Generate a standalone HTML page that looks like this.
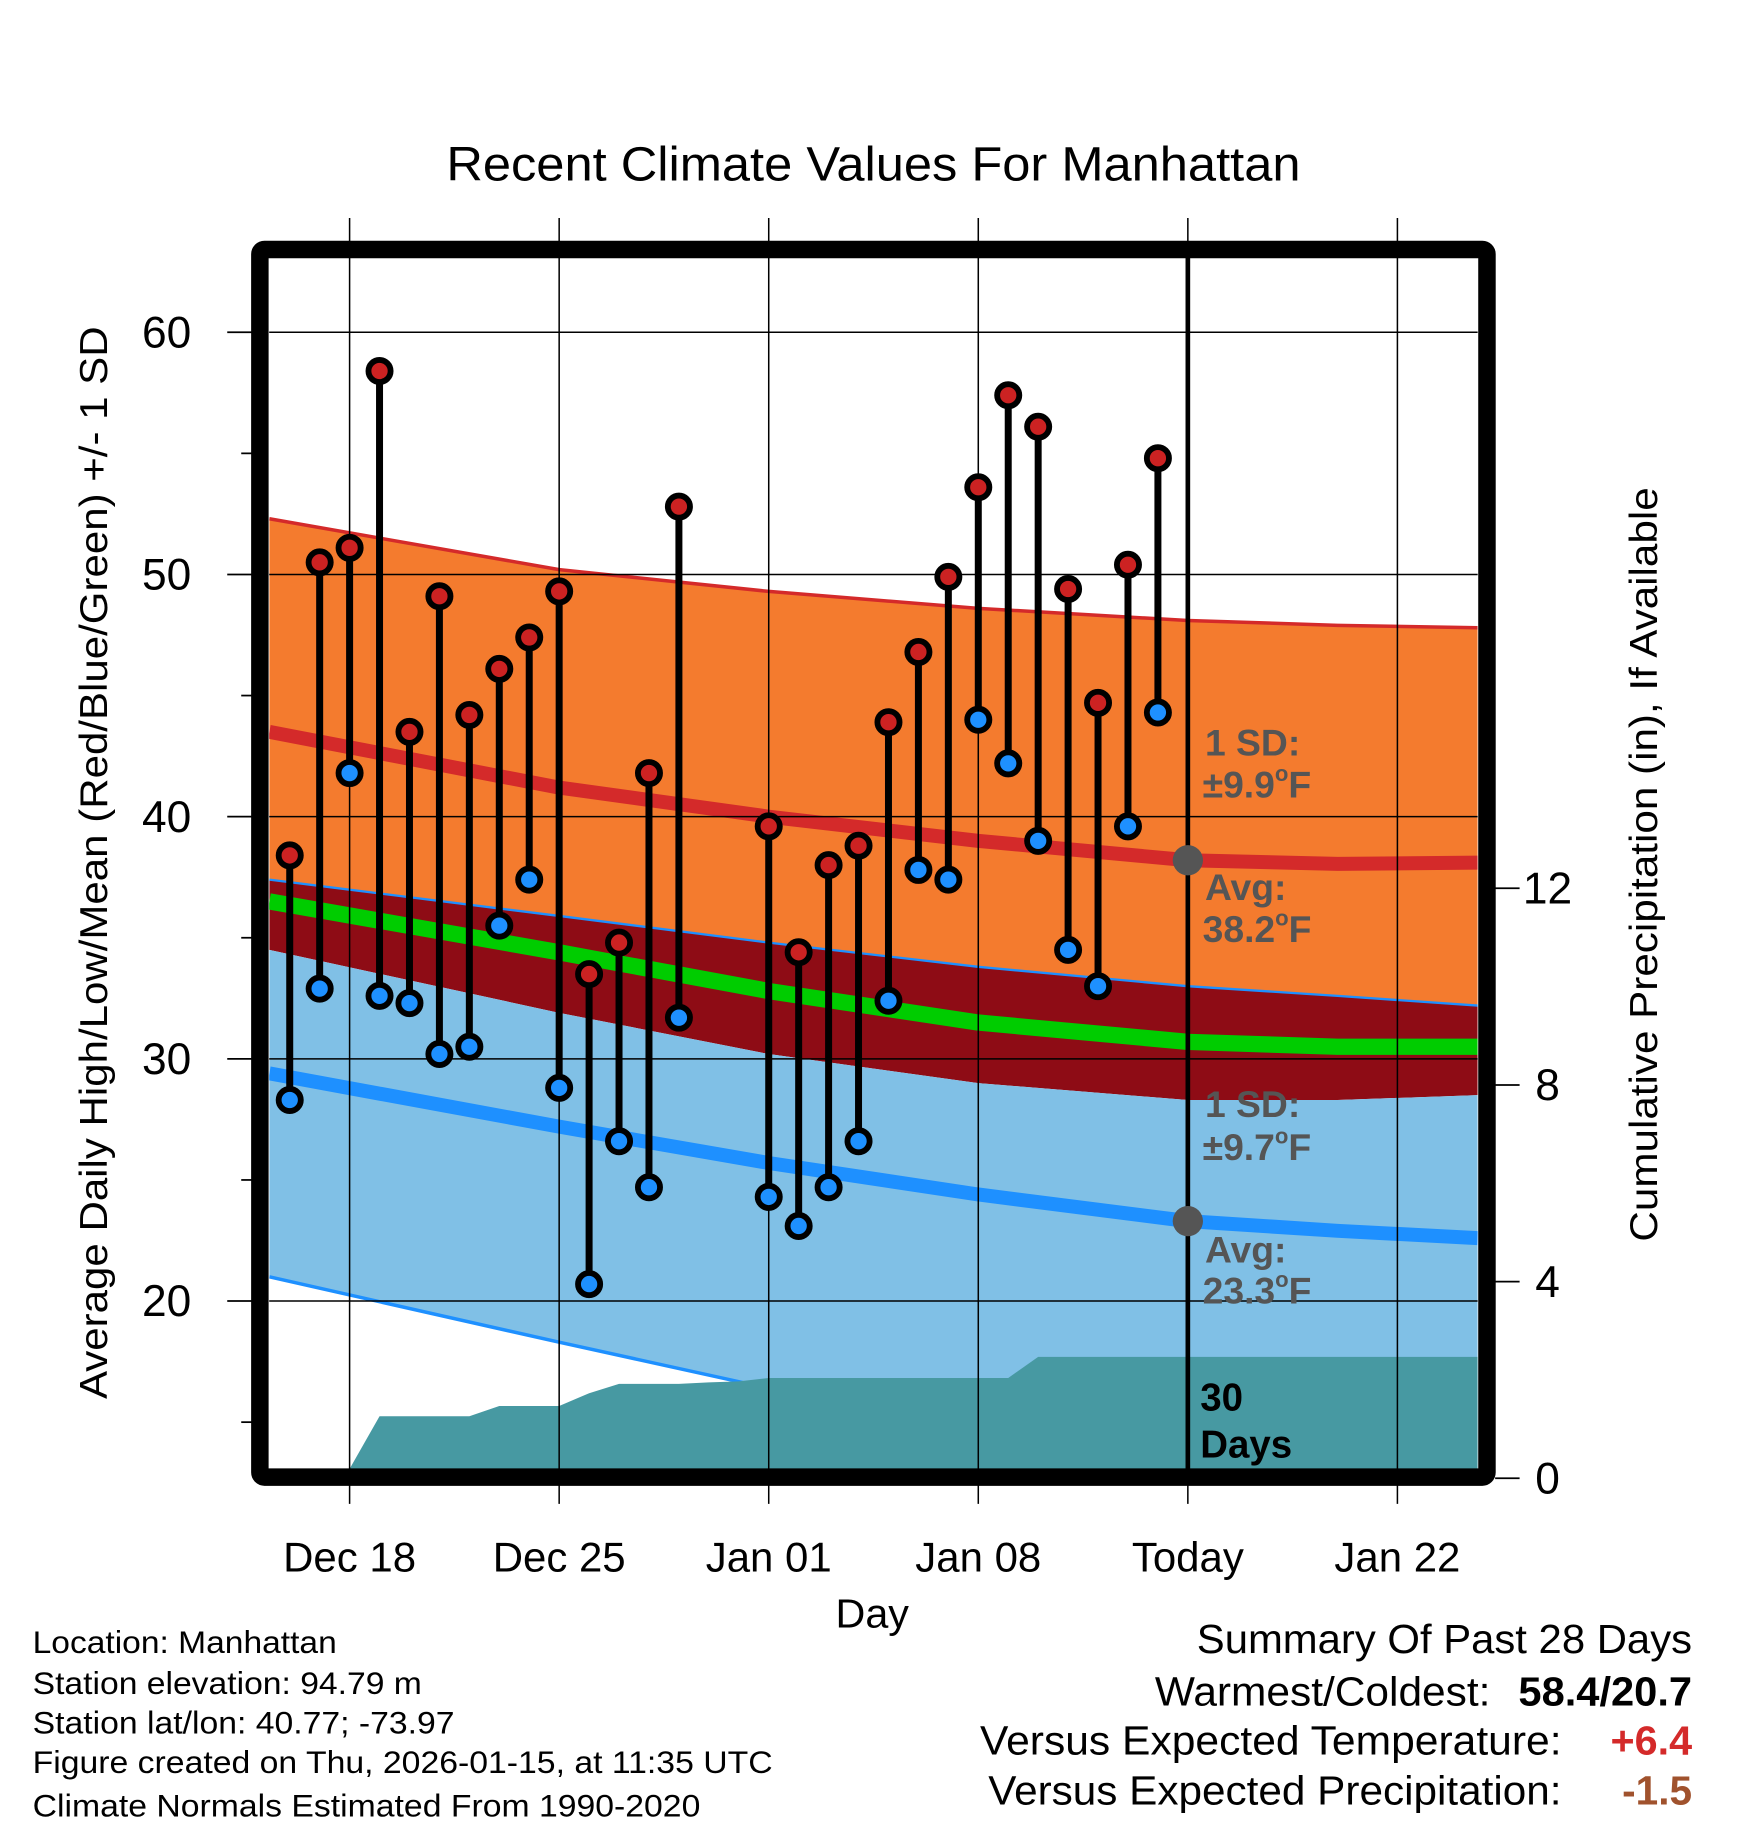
<!DOCTYPE html>
<html><head><meta charset="utf-8"><style>
html,body{margin:0;padding:0;background:#fff;}
svg{display:block;font-family:"Liberation Sans",Arial,sans-serif;}
</style></head><body>
<svg id="chart" width="1748" height="1828" viewBox="0 0 1500 1568" preserveAspectRatio="none" xmlns="http://www.w3.org/2000/svg">
<defs><clipPath id="plotclip"><rect x="231" y="221" width="1037" height="1039"/></clipPath></defs>
<text x="383" y="155" font-size="41" textLength="733" lengthAdjust="spacingAndGlyphs">Recent Climate Values For Manhattan</text>
<g id="bands" clip-path="url(#plotclip)"></g>
<g id="grid"></g>
<g id="marks"></g>
<rect x="223" y="214" width="1053" height="1053" fill="none" stroke="#000" stroke-width="15" rx="4"/>
<g id="axes"></g>
<text transform="translate(92,1200) rotate(-90)" font-size="33" textLength="920" lengthAdjust="spacingAndGlyphs">Average Daily High/Low/Mean (Red/Blue/Green) +/- 1 SD</text>
<text transform="translate(1422,1065) rotate(-90)" font-size="33" textLength="647" lengthAdjust="spacingAndGlyphs">Cumulative Precipitation (in), If Available</text>
<text x="717" y="1396" font-size="35" textLength="63" lengthAdjust="spacingAndGlyphs">Day</text>
<g fill="#555" font-weight="bold" font-size="32">
<text x="1034" y="648">1 SD:</text><text x="1032" y="684">±9.9<tspan font-size="19" dy="-14">o</tspan><tspan dy="14">F</tspan></text>
<text x="1034" y="772">Avg:</text><text x="1032" y="808">38.2<tspan font-size="19" dy="-14">o</tspan><tspan dy="14">F</tspan></text>
<text x="1034" y="958">1 SD:</text><text x="1032" y="995">±9.7<tspan font-size="19" dy="-14">o</tspan><tspan dy="14">F</tspan></text>
<text x="1034" y="1083">Avg:</text><text x="1032" y="1118">23.3<tspan font-size="19" dy="-14">o</tspan><tspan dy="14">F</tspan></text>
</g>
<g font-weight="bold" font-size="33"><text x="1030" y="1210">30</text><text x="1030" y="1250">Days</text></g>
<g font-size="27" lengthAdjust="spacingAndGlyphs">
<text x="28" y="1418" textLength="261" lengthAdjust="spacingAndGlyphs">Location: Manhattan</text>
<text x="28" y="1453" textLength="334" lengthAdjust="spacingAndGlyphs">Station elevation: 94.79 m</text>
<text x="28" y="1487" textLength="362" lengthAdjust="spacingAndGlyphs">Station lat/lon: 40.77; -73.97</text>
<text x="28" y="1521" textLength="635" lengthAdjust="spacingAndGlyphs">Figure created on Thu, 2026-01-15, at 11:35 UTC</text>
<text x="28" y="1558" textLength="573" lengthAdjust="spacingAndGlyphs">Climate Normals Estimated From 1990-2020</text>
</g>
<g font-size="35">
<text x="1027" y="1418" textLength="425" lengthAdjust="spacingAndGlyphs">Summary Of Past 28 Days</text>
<text x="991" y="1463" textLength="288" lengthAdjust="spacingAndGlyphs">Warmest/Coldest:</text>
<text x="1303" y="1463" font-weight="bold" textLength="149" lengthAdjust="spacingAndGlyphs">58.4/20.7</text>
<text x="841" y="1505" textLength="499" lengthAdjust="spacingAndGlyphs">Versus Expected Temperature:</text>
<text x="1382" y="1505" font-weight="bold" fill="#d42a2a" textLength="70" lengthAdjust="spacingAndGlyphs">+6.4</text>
<text x="848" y="1548" textLength="492" lengthAdjust="spacingAndGlyphs">Versus Expected Precipitation:</text>
<text x="1392" y="1548" font-weight="bold" fill="#a0522d" textLength="60" lengthAdjust="spacingAndGlyphs">-1.5</text>
</g>
</svg>
<script>
// ---- data ----
const dayIdx = [-2,-1,0,1,2,3,4,5,6,7,8,9,10,11,14,15,16,17,18,19,20,21,22,23,24,25,26,27];
const highs = [38.4,50.5,51.1,58.4,43.5,49.1,44.2,46.1,47.4,49.3,33.5,34.8,41.8,52.8,39.6,34.4,38.0,38.8,43.9,46.8,49.9,53.6,57.4,56.1,49.4,44.7,50.4,54.8];
const lows = [28.3,32.9,41.8,32.6,32.3,30.2,30.5,35.5,37.4,28.8,20.7,26.6,24.7,31.7,24.3,23.1,24.7,26.6,32.4,37.8,37.4,44.0,42.2,39.0,34.5,33.0,39.6,44.3];
const normDays = [-2.68,7,14,21,28,33,37.68];
const highTop = [52.3,50.2,49.3,48.6,48.1,47.9,47.8];
const highMean = [43.5,41.2,40.0,39.0,38.2,38.05,38.1];
const highLow = [37.4,35.9,34.8,33.8,33.0,32.6,32.2];
const meanMean = [36.5,34.4,32.8,31.5,30.7,30.5,30.5];
const lowTop = [34.5,31.9,30.2,29.0,28.3,28.3,28.5];
const lowMean = [29.4,27.2,25.7,24.4,23.3,22.9,22.6];
const lowBottom = [21.0,18.3,16.4,14.5,12.6,11.5,10.7];
const precipDays = [0,1,2,3,4,5,6,7,8,9,10,11,12,13,14,15,16,17,18,19,20,21,22,23,24,25,26,27,28,37.68];
const precip = [0,1.26,1.26,1.26,1.26,1.47,1.47,1.47,1.73,1.92,1.92,1.92,1.95,1.97,2.04,2.04,2.04,2.04,2.04,2.04,2.04,2.04,2.04,2.47,2.47,2.47,2.47,2.47,2.47,2.47];
const yTicks = [20,30,40,50,60];
const yMinor = [15,25,35,45,55];
const pTicks = [0,4,8,12];
const xTickDays = [0,7,14,21,28,35];
const xTickLabels = ["Dec 18","Dec 25","Jan 01","Jan 08","Today","Jan 22"];
// ---- scales ----
const X = d => 300 + d*25.69;
const Y = v => 1116 - (v-20)*20.775;
const P = v => 1268 - v*42.17;
const NS = "http://www.w3.org/2000/svg";
function mk(parent, tag, attrs){const e=document.createElementNS(NS,tag);for(const k in attrs)e.setAttribute(k,attrs[k]);parent.appendChild(e);return e;}
const bands=document.getElementById('bands'), grid=document.getElementById('grid'), marks=document.getElementById('marks'), axes=document.getElementById('axes');
const pts = arr => normDays.map((d,i)=>X(d)+','+Y(arr[i]));
function band(top,bot,fill,name){
  const p = pts(top).concat(pts(bot).reverse());
  const e = mk(bands,'polygon',{points:p.join(' '),fill:fill});
  
  
}
function line(arr,color,w,name){
  const e = mk(bands,'polyline',{points:pts(arr).join(' '),fill:'none',stroke:color,'stroke-width':w,'stroke-linejoin':'round'});
  
  
}
band(highTop,highLow,'#f47b2e','high-sd-band');
band(highLow,lowTop,'#8e0c15','overlap-band');
band(lowTop,lowBottom,'#80c0e6','low-sd-band');
line(highTop,'#d42a2a',3,'high-upper-edge');
line(highLow,'#1e90ff',2,'low-upper-edge');
line(lowBottom,'#1e90ff',3,'low-lower-edge');
line(meanMean,'#00cc00',14,'mean-normal-line');
line(highMean,'#d42a2a',12,'high-normal-line');
line(lowMean,'#1e90ff',12,'low-normal-line');
// precip area
{
  const p = precipDays.map((d,i)=>X(d)+','+Math.min(1260,P(precip[i])));
  p.push(X(37.68)+',1262'); p.push(X(0)+',1262');
  const e = mk(bands,'polygon',{points:p.join(' '),fill:'#4799a2'});
  
  
}
// grid
yTicks.forEach(v=>{
  const e = mk(grid,'line',{x1:231,x2:1268,y1:Y(v),y2:Y(v),stroke:'#000','stroke-width':1.3});
  
  
});
xTickDays.forEach((d,i)=>{
  const e = mk(grid,'line',{x1:X(d),x2:X(d),y1:187,y2:1290,stroke:'#000','stroke-width':1.3});
  
  
  if (xTickLabels[i]==='Today'){
    const t = mk(grid,'line',{x1:X(d),x2:X(d),y1:221,y2:1260,stroke:'#000','stroke-width':4});
    
    
  }
});
// stems & markers
dayIdx.forEach((d,i)=>{
  const s = mk(marks,'line',{x1:X(d),x2:X(d),y1:Y(highs[i]),y2:Y(lows[i]),stroke:'#000','stroke-width':6});
  
  
});
dayIdx.forEach((d,i)=>{
  const h = mk(marks,'circle',{cx:X(d),cy:Y(highs[i]),r:9.5,fill:'#cc2222',stroke:'#000','stroke-width':5});
  
  
  const l = mk(marks,'circle',{cx:X(d),cy:Y(lows[i]),r:9.5,fill:'#1e90ff',stroke:'#000','stroke-width':5});
  
  
});
[highMean,lowMean].forEach((arr,k)=>{
  const c = mk(marks,'circle',{cx:X(28),cy:Y(arr[4]),r:13,fill:'#555'});
  
  
});
// axes
yTicks.forEach(v=>{
  const t = mk(axes,'line',{x1:195,x2:216,y1:Y(v),y2:Y(v),stroke:'#000','stroke-width':1.5});
  
  
  const l = mk(axes,'text',{x:143,y:Y(v)+13,'font-size':38,'text-anchor':'middle'});
  l.textContent = v;
  
  
});
yMinor.forEach(v=>{
  const t = mk(axes,'line',{x1:207,x2:216,y1:Y(v),y2:Y(v),stroke:'#000','stroke-width':1.5});
  
  
});
pTicks.forEach(v=>{
  const t = mk(axes,'line',{x1:1283,x2:1304,y1:P(v),y2:P(v),stroke:'#000','stroke-width':1.5});
  
  
  const l = mk(axes,'text',{x:1328,y:P(v)+13,'font-size':38,'text-anchor':'middle'});
  l.textContent = v;
  
  
});
xTickDays.forEach((d,i)=>{
  const l = mk(axes,'text',{x:X(d),y:1348,'font-size':36,'text-anchor':'middle'});
  l.textContent = xTickLabels[i];
  
  
});
</script>
</body></html>
